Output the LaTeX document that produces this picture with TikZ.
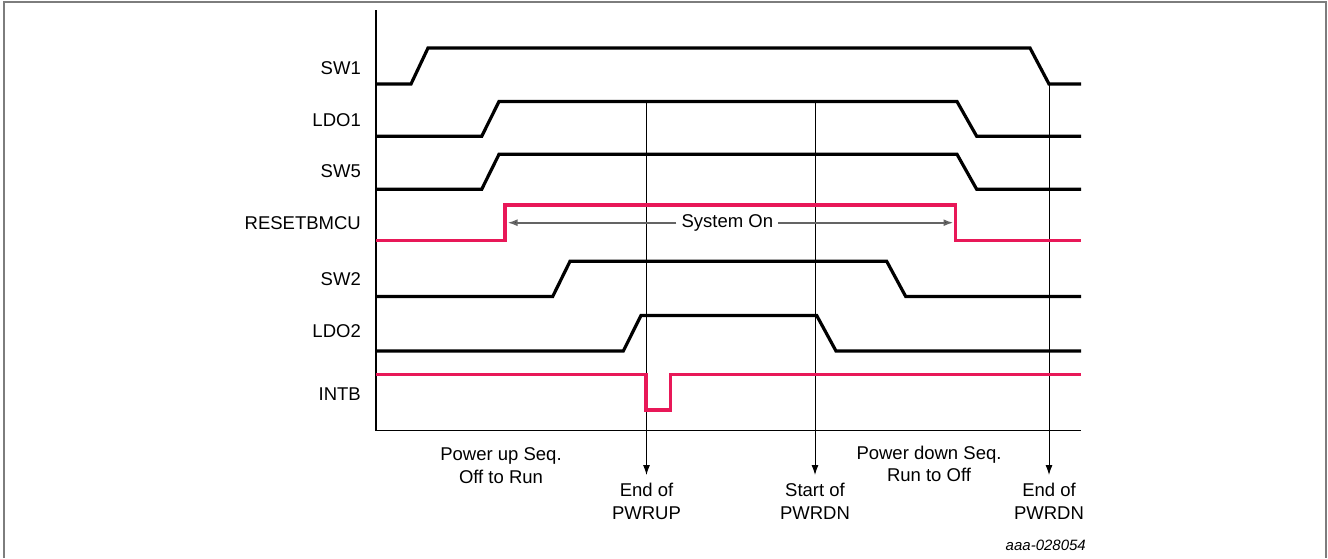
\documentclass[tikz,border=0pt]{standalone}
\usepackage{fontspec}
\setmainfont{Liberation Sans}
\usetikzlibrary{arrows.meta}
\definecolor{sigred}{RGB}{232,24,88}
\definecolor{frame}{RGB}{125,125,125}
\begin{document}
\begin{tikzpicture}[x=1pt,y=-1pt,
  sig/.style={line width=3.2pt,line join=miter},
  redsig/.style={sig,draw=sigred},
  lbl/.style={anchor=base east,inner sep=0pt,font=\fontsize{18.5}{23}\selectfont},
  note/.style={align=center,inner sep=0pt,font=\fontsize{18.5}{22.5}\selectfont},
  marker/.style={line width=1pt,-{Latex[length=10pt,width=7pt]},shorten >=8pt},
  span/.style={line width=1.8pt,draw=frame!80!black,-{Latex[length=10pt,width=7pt,fill=black]}}]
\useasboundingbox (0,0) rectangle (1328,558);
% frame
\draw[frame,line width=1.5pt] (4,558) -- (4,2) -- (1326,2) -- (1326,558);
% axes
\draw[line width=1.5pt] (376,10) -- (376,430.5) -- (1081,430.5);
% labels
\node[lbl] (lsw1) at (361,74.3) {SW1};
\node[lbl] (lldo1) at (361,126.7) {LDO1};
\node[lbl] (lsw5) at (361,177.7) {SW5};
\node[lbl] (lrst) at (361,229) {RESETBMCU};
\node[lbl] (lsw2) at (361,285) {SW2};
\node[lbl] (lldo2) at (361,337.3) {LDO2};
\node[lbl] (lintb) at (361,400) {INTB};
% marker lines (behind signals)
\coordinate (m1) at (646.5,101.5);
\coordinate (m2) at (815,101.5);
\coordinate (m3) at (1049,84);
\node[note,anchor=north] (n1) at (646.5,483) {End of\\PWRUP};
\node[note,anchor=north] (n2) at (815,483) {Start of\\PWRDN};
\node[note,anchor=north] (n3) at (1049,483) {End of\\PWRDN};
\draw[marker] (m1) -- (n1.north);
\draw[marker] (m2) -- (n2.north);
\draw[marker] (m3) -- (n3.north);
% signals
\draw[sig] (376,84) -- (411,84) -- (428,48) -- (1030,48) -- (1049,84) -- (1081,84);
\draw[sig] (376,136.3) -- (481.7,136.3) -- (499,101.5) -- (957,101.5) -- (976.7,136.3) -- (1081,136.3);
\draw[sig] (376,189.3) -- (481.7,189.3) -- (499,154.3) -- (957,154.3) -- (976.7,189.3) -- (1081,189.3);
\draw[redsig] (376,240.5) -- (505,240.5) -- (505,205) -- (955.5,205) -- (955.5,240.5) -- (1081,240.5);
\draw[sig] (376,296.5) -- (552.7,296.5) -- (570,261.3) -- (886.7,261.3) -- (905.7,296.5) -- (1081,296.5);
\draw[sig] (376,351) -- (623.3,351) -- (641,315.5) -- (816.7,315.5) -- (836,351) -- (1081,351);
\draw[redsig] (376,374.7) -- (646,374.7) -- (646,410) -- (670.7,410) -- (670.7,374.7) -- (1081,374.7);
% system on
\coordinate (sl) at (507.5,222.7);
\coordinate (sr) at (953.5,222.7);
\node[note,inner sep=5pt] (son) at (727.4,222.7) {System On};
\draw[span] (son.west) -- (sl);
\draw[span] (son.east) -- (sr);
% sequence notes
\node[note,anchor=base] (pu) at (501,483) {Power up Seq.\\Off to Run};
\node[note,anchor=base] (pd) at (929,481.7) {Power down Seq.\\Run to Off};
\node[anchor=base east,inner sep=0pt,font=\fontsize{15}{18}\selectfont\itshape] (code) at (1086,550) {aaa-028054};
\end{tikzpicture}
\end{document}
